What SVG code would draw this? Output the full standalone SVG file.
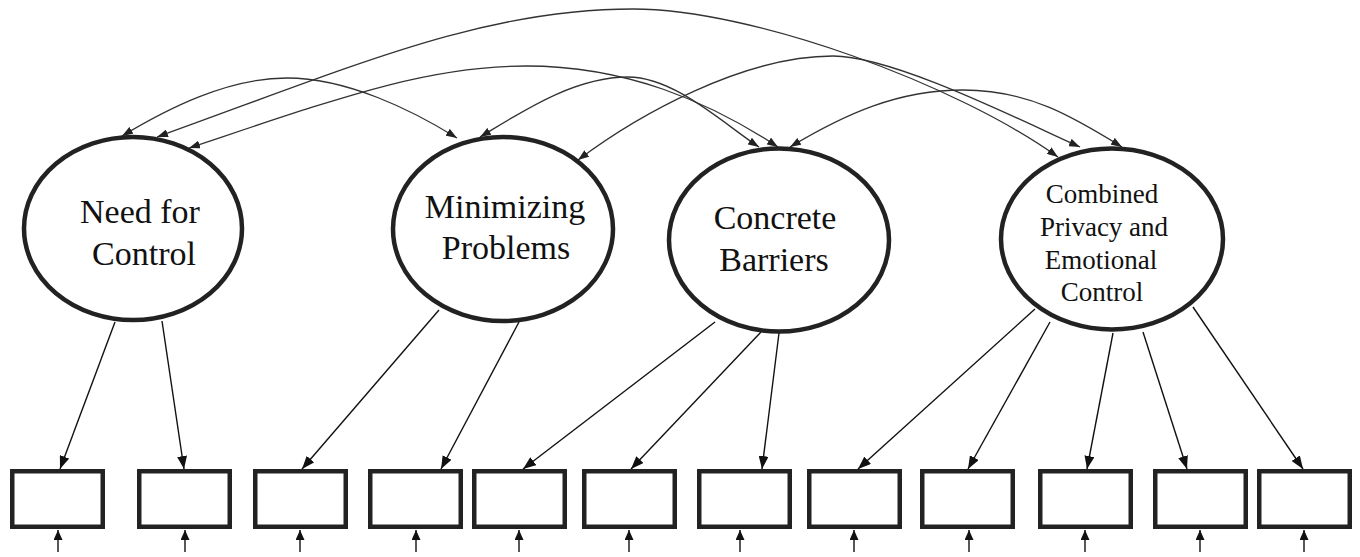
<svg xmlns="http://www.w3.org/2000/svg" width="1360" height="557" viewBox="0 0 1360 557">
<style>
.lat{fill:#fff;stroke:#222;stroke-width:4.5}
.obs{fill:#fff;stroke:#222;stroke-width:4.5}
.lbl{font-family:'Liberation Serif','Times New Roman',serif;font-size:34px;fill:#111;text-anchor:middle}
.lbs{font-family:'Liberation Serif','Times New Roman',serif;font-size:27px;fill:#111;text-anchor:middle}
.cov{fill:none;stroke:#333;stroke-width:1.3;marker-start:url(#arcHead);marker-end:url(#arcHead)}
.load{fill:none;stroke:#111;stroke-width:1.4;marker-end:url(#loadHead)}
.err{fill:none;stroke:#111;stroke-width:1.4;marker-end:url(#errHead)}
</style>
<defs>
<marker id="arcHead" viewBox="0 0 11 8" refX="11" refY="4" markerWidth="11" markerHeight="8" markerUnits="userSpaceOnUse" orient="auto-start-reverse"><path d="M0,0 L11,4 L0,8 z" fill="#222"/></marker>
<marker id="loadHead" viewBox="0 0 13 10" refX="13" refY="5" markerWidth="13" markerHeight="10" markerUnits="userSpaceOnUse" orient="auto"><path d="M0,0 L13,5 L0,10 z" fill="#111"/></marker>
<marker id="errHead" viewBox="0 0 10 9" refX="10" refY="4.5" markerWidth="10" markerHeight="9" markerUnits="userSpaceOnUse" orient="auto"><path d="M0,0 L10,4.5 L0,9 z" fill="#111"/></marker>
</defs>
<rect width="1360" height="557" fill="#fff"/>
<g id="connectors">
<path class="cov" d="M122,136 C167,109 227,78 287,78 C347,78 412,110 457,138"/>
<path class="cov" d="M189,148 C339,98 426,66 526,66 C626,66 708,101 778,147"/>
<path class="cov" d="M157,137 C357,65 483,9 633,9 C753,9 958,85 1058,157"/>
<path class="cov" d="M480,137 C520,113 573,77 628,77 C675,77 725,125 759,147"/>
<path class="cov" d="M578,160 C638,115 743,56 833,56 C893,56 1020,120 1080,147"/>
<path class="cov" d="M790,147 C845,114 898,90 963,90 C1028,90 1072,116 1122,147"/>
<line class="load" x1="115" y1="322" x2="60" y2="469"/>
<line class="load" x1="162" y1="321" x2="184" y2="469"/>
<line class="load" x1="439" y1="310" x2="302" y2="469"/>
<line class="load" x1="519" y1="322" x2="441" y2="469"/>
<line class="load" x1="715" y1="322" x2="523" y2="469"/>
<line class="load" x1="761" y1="332" x2="631" y2="469"/>
<line class="load" x1="779" y1="333" x2="762" y2="469"/>
<line class="load" x1="1035" y1="309" x2="858" y2="469"/>
<line class="load" x1="1050" y1="322" x2="968" y2="469"/>
<line class="load" x1="1113" y1="333" x2="1087" y2="469"/>
<line class="load" x1="1143" y1="332" x2="1187" y2="469"/>
<line class="load" x1="1193" y1="307" x2="1303" y2="469"/>
<line class="err" x1="58" y1="552" x2="58" y2="530"/>
<line class="err" x1="185" y1="552" x2="185" y2="530"/>
<line class="err" x1="300" y1="552" x2="300" y2="530"/>
<line class="err" x1="416" y1="552" x2="416" y2="530"/>
<line class="err" x1="519" y1="552" x2="519" y2="530"/>
<line class="err" x1="629" y1="552" x2="629" y2="530"/>
<line class="err" x1="740" y1="552" x2="740" y2="530"/>
<line class="err" x1="854" y1="552" x2="854" y2="530"/>
<line class="err" x1="969" y1="552" x2="969" y2="530"/>
<line class="err" x1="1085" y1="552" x2="1085" y2="530"/>
<line class="err" x1="1200" y1="552" x2="1200" y2="530"/>
<line class="err" x1="1304" y1="552" x2="1304" y2="530"/>
</g>
<g id="need-for-control">
<ellipse class="lat" cx="133" cy="228.5" rx="109" ry="91.5"/>
<text class="lbl" x="140" y="223">Need for</text>
<text class="lbl" x="144" y="265">Control</text>
</g>
<g id="minimizing-problems">
<ellipse class="lat" cx="503" cy="229" rx="110" ry="92"/>
<text class="lbl" x="505" y="218">Minimizing</text>
<text class="lbl" x="506" y="259">Problems</text>
</g>
<g id="concrete-barriers">
<ellipse class="lat" cx="779" cy="240" rx="110" ry="91.5"/>
<text class="lbl" x="775" y="229">Concrete</text>
<text class="lbl" x="774" y="271">Barriers</text>
</g>
<g id="combined-privacy">
<ellipse class="lat" cx="1112" cy="239" rx="111" ry="90.5"/>
<text class="lbs" x="1102" y="203">Combined</text>
<text class="lbs" x="1104" y="236">Privacy and</text>
<text class="lbs" x="1101" y="269">Emotional</text>
<text class="lbs" x="1102" y="301">Control</text>
</g>
<g id="indicator-1"><rect class="obs" x="12.25" y="471.25" width="90.5" height="55.5"/></g>
<g id="indicator-2"><rect class="obs" x="139.25" y="471.25" width="90.5" height="55.5"/></g>
<g id="indicator-3"><rect class="obs" x="255.25" y="471.25" width="90.5" height="55.5"/></g>
<g id="indicator-4"><rect class="obs" x="370.25" y="471.25" width="90.5" height="55.5"/></g>
<g id="indicator-5"><rect class="obs" x="474.25" y="471.25" width="90.5" height="55.5"/></g>
<g id="indicator-6"><rect class="obs" x="584.25" y="471.25" width="90.5" height="55.5"/></g>
<g id="indicator-7"><rect class="obs" x="699.25" y="471.25" width="90.5" height="55.5"/></g>
<g id="indicator-8"><rect class="obs" x="809.25" y="471.25" width="90.5" height="55.5"/></g>
<g id="indicator-9"><rect class="obs" x="922.25" y="471.25" width="90.5" height="55.5"/></g>
<g id="indicator-10"><rect class="obs" x="1040.25" y="471.25" width="90.5" height="55.5"/></g>
<g id="indicator-11"><rect class="obs" x="1155.25" y="471.25" width="90.5" height="55.5"/></g>
<g id="indicator-12"><rect class="obs" x="1259.25" y="471.25" width="90.5" height="55.5"/></g>
</svg>
